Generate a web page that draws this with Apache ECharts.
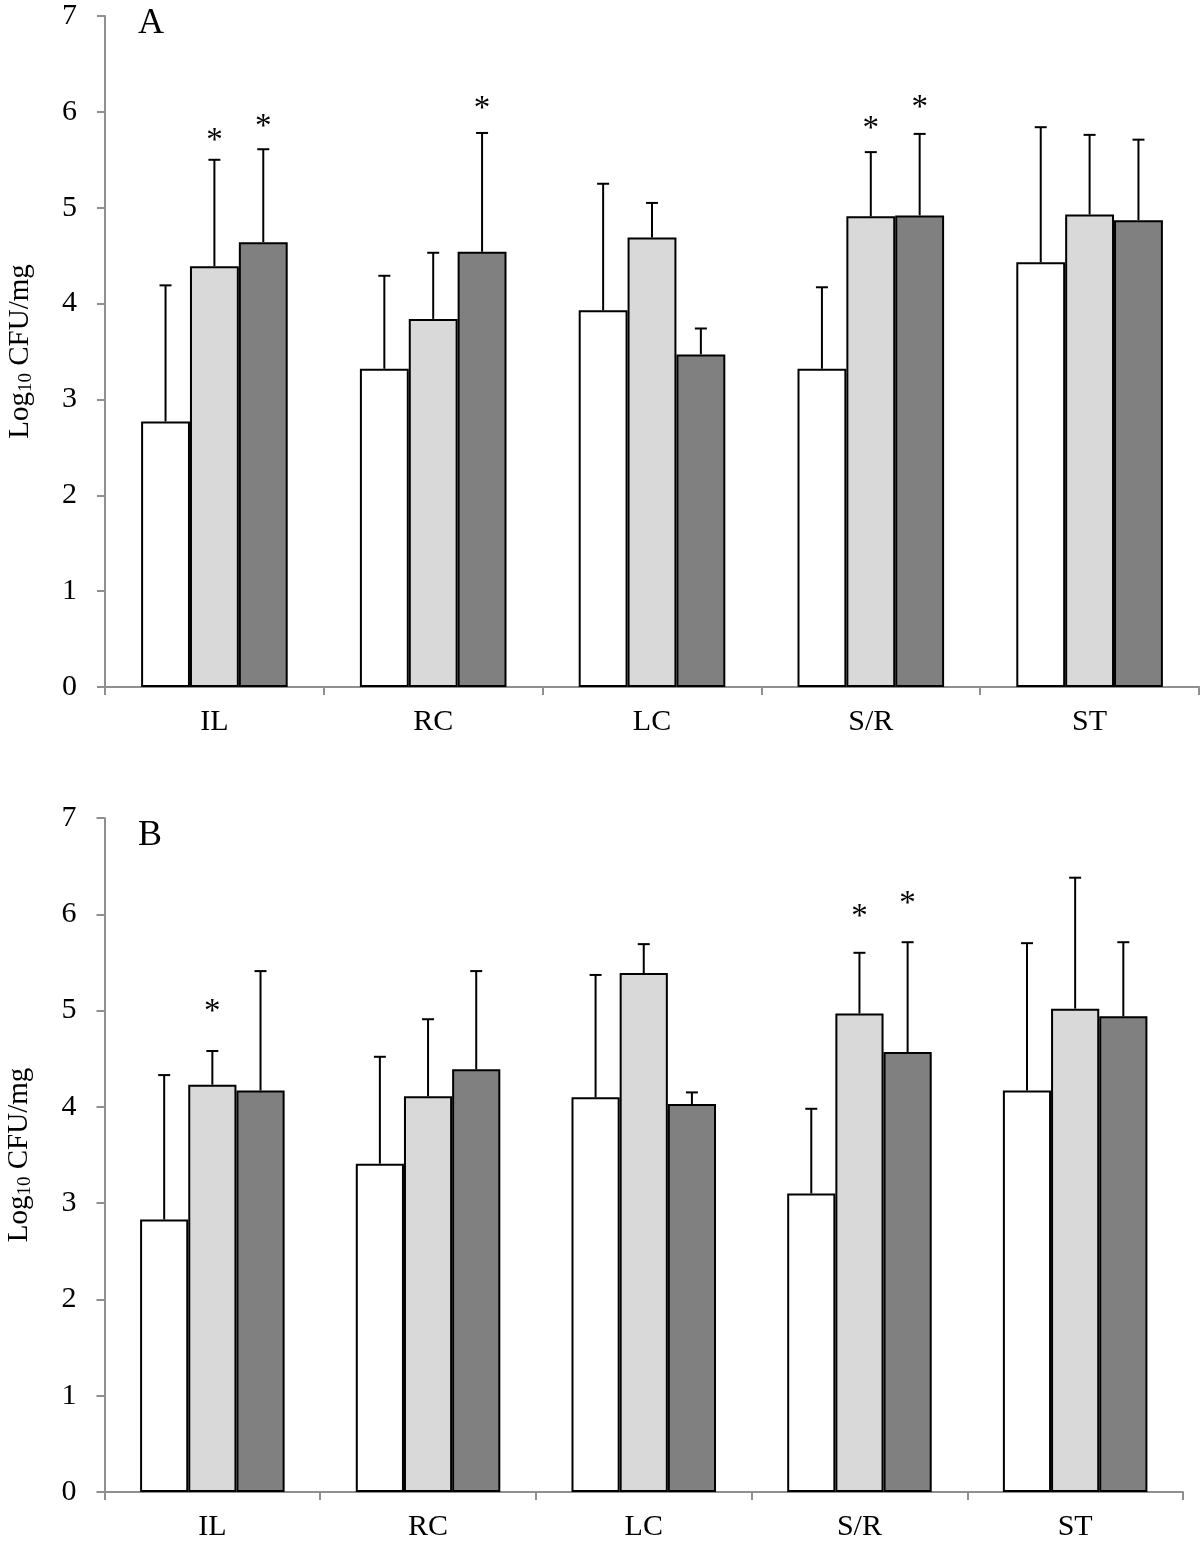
<!DOCTYPE html>
<html>
<head>
<meta charset="utf-8">
<script src="https://cdn.jsdelivr.net/npm/echarts@6/dist/echarts.min.js"></script>
<style>
html,body{margin:0;padding:0;background:#fff;}
#chart{width:1200px;height:1546px;}
</style>
</head>
<body>
<div id="chart"></div>
<script>
const categories = ['IL', 'RC', 'LC', 'S/R', 'ST'];
const yTicks = [0, 1, 2, 3, 4, 5, 6, 7];

// Panel A: means and SD (upper error)
const A_white = [2.77, 3.32, 3.93, 3.32, 4.43];
const A_whiteSD = [1.42, 0.97, 1.32, 0.85, 1.41];
const A_light = [4.39, 3.84, 4.69, 4.91, 4.93];
const A_lightSD = [1.11, 0.69, 0.36, 0.67, 0.83];
const A_dark = [4.64, 4.54, 3.47, 4.92, 4.87];
const A_darkSD = [0.97, 1.24, 0.27, 0.85, 0.84];
const A_whiteStar = [null, null, null, null, null];
const A_lightStar = [5.76, null, null, 5.88, null];
const A_darkStar = [5.90, 6.09, null, 6.10, null];

// Panel B
const B_white = [2.83, 3.41, 4.10, 3.10, 4.17];
const B_whiteSD = [1.50, 1.11, 1.27, 0.88, 1.53];
const B_light = [4.23, 4.11, 5.39, 4.97, 5.02];
const B_lightSD = [0.35, 0.80, 0.30, 0.63, 1.36];
const B_dark = [4.17, 4.39, 4.03, 4.57, 4.94];
const B_darkSD = [1.24, 1.02, 0.12, 1.14, 0.77];
const B_whiteStar = [null, null, null, null, null];
const B_lightStar = [5.04, null, null, 6.03, null];
const B_darkStar = [null, null, null, 6.17, null];

const panelLabels = ['A', 'B'];
const fillColors = ['#ffffff', '#d9d9d9', '#808080'];

const FONT = "'Liberation Serif', 'Times New Roman', serif";
const AXIS_COLOR = '#8f8f8f';
const GAP = 0.33;

const panels = [
  {means: [A_white, A_light, A_dark], sds: [A_whiteSD, A_lightSD, A_darkSD], stars: [A_whiteStar, A_lightStar, A_darkStar]},
  {means: [B_white, B_light, B_dark], sds: [B_whiteSD, B_lightSD, B_darkSD], stars: [B_whiteStar, B_lightStar, B_darkStar]}
];

const grids = [
  {left: 105, right: 1, top: 16, height: 671, containLabel: false, outerBoundsMode: 'none'},
  {left: 104.5, right: 17, top: 818, height: 674, containLabel: false, outerBoundsMode: 'none'}
];

const xAxes = grids.map((g, i) => ({
  type: 'category', gridIndex: i, data: categories, boundaryGap: true,
  axisLine: {lineStyle: {color: AXIS_COLOR, width: 2}},
  axisTick: {show: true, length: 8, interval: 0, lineStyle: {color: AXIS_COLOR, width: 2}},
  axisLabel: {color: '#000', fontFamily: FONT, fontSize: 30, margin: 20, interval: 0},
  splitLine: {show: false}
}));

const yAxes = grids.map((g, i) => ({
  type: 'value', gridIndex: i, min: yTicks[0], max: yTicks[yTicks.length - 1], interval: 1,
  name: '{a|Log}{s|10}{a| CFU/mg}', nameLocation: 'middle', nameRotate: 90, nameGap: 68,
  nameMoveOverlap: false,
  nameTextStyle: {
    rich: {
      a: {fontFamily: FONT, fontSize: 29, color: '#000', lineHeight: 34},
      s: {fontFamily: FONT, fontSize: 19, color: '#000', lineHeight: 34, padding: [12, 0, 0, 0]}
    }
  },
  axisLine: {show: true, lineStyle: {color: AXIS_COLOR, width: 2}},
  axisTick: {show: true, length: 8, inside: false, lineStyle: {color: AXIS_COLOR, width: 2}},
  axisLabel: {color: '#000', fontFamily: FONT, fontSize: 30, margin: 28},
  splitLine: {show: false}
}));

const series = [];
panels.forEach((p, pi) => {
  p.means.forEach((m, k) => {
    series.push({
      type: 'bar', xAxisIndex: pi, yAxisIndex: pi, data: m,
      barGap: '0%', barCategoryGap: (GAP * 100) + '%',
      itemStyle: {color: fillColors[k], borderColor: '#000', borderWidth: 2},
      emphasis: {disabled: true}, z: 2
    });
  });
  p.means.forEach((m, k) => {
    const sd = p.sds[k];
    const st = p.stars[k];
    series.push({
      type: 'custom', xAxisIndex: pi, yAxisIndex: pi, z: 5,
      data: m.map((v, j) => [j, v, sd[j]]),
      renderItem: function (params, api) {
        const x = api.value(0), mean = api.value(1), e = api.value(2);
        const band = api.size([1, 0])[0];
        const barW = band * (1 - GAP) / 3;
        const c = api.coord([x, mean]);
        const t = api.coord([x, mean + e]);
        const cx = c[0] + (k - 1) * barW;
        const children = [
          {type: 'line', shape: {x1: cx, y1: c[1], x2: cx, y2: t[1]}, style: {stroke: '#000', lineWidth: 2}},
          {type: 'line', shape: {x1: cx - 6, y1: t[1], x2: cx + 6, y2: t[1]}, style: {stroke: '#000', lineWidth: 2}}
        ];
        const s = st[params.dataIndex];
        if (s !== null && s !== undefined) {
          const sp = api.coord([x, s]);
          children.push({type: 'text', style: {x: cx, y: sp[1] + 6, text: '*', fontFamily: FONT, fontSize: 33, fill: '#000', align: 'center', verticalAlign: 'middle'}});
        }
        return {type: 'group', children: children};
      }
    });
  });
});

const graphic = [
  {type: 'text', left: 138, top: 6, style: {text: panelLabels[0], fontFamily: FONT, fontSize: 36, fill: '#000'}},
  {type: 'text', left: 138, top: 818, style: {text: panelLabels[1], fontFamily: FONT, fontSize: 36, fill: '#000'}}
];

const chart = echarts.init(document.getElementById('chart'), null, {renderer: 'canvas'});
chart.setOption({
  animation: false,
  backgroundColor: '#fff',
  grid: grids,
  xAxis: xAxes,
  yAxis: yAxes,
  series: series,
  graphic: graphic,
  tooltip: {show: false}
});
</script>
</body>
</html>
